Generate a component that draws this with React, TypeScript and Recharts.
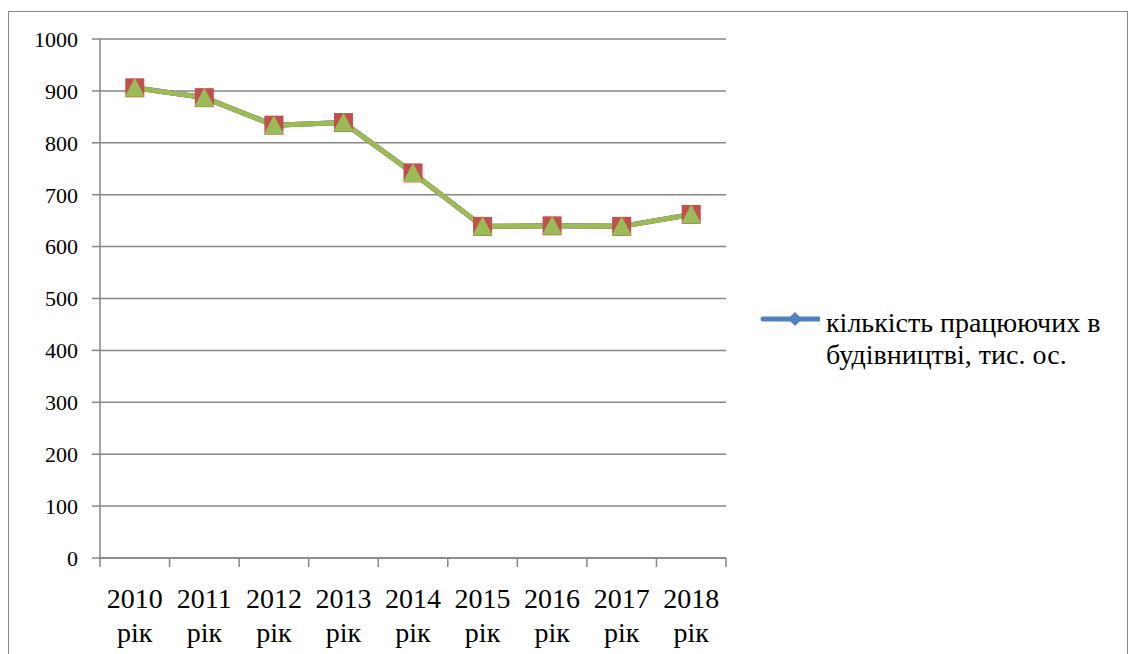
import { CartesianGrid, Legend, Line, LineChart, XAxis, YAxis } from "recharts";

const years = ["2010", "2011", "2012", "2013", "2014", "2015", "2016", "2017", "2018"];
const workersBlue = [906, 887, 834, 839, 742, 639, 640, 639, 662];
const workersRed = [906, 887, 834, 839, 742, 639, 640, 639, 662];
const workersGreen = [906, 887, 834, 839, 742, 639, 640, 639, 662];
const yTicks = [0, 100, 200, 300, 400, 500, 600, 700, 800, 900, 1000];
const legendLines = ["кількість працюючих в", "будівництві, тис. ос."];

const data = years.map((y, i) => ({
  year: y,
  blue: workersBlue[i],
  red: workersRed[i],
  green: workersGreen[i],
}));

const SERIF = "Liberation Serif, DejaVu Serif, Noto Serif, serif";
const GRID = "#868686";
const PLOT_LEFT = 100;
const PLOT_RIGHT = 726;
const BAND = (PLOT_RIGHT - PLOT_LEFT) / years.length;

// category labels two lines, tick marks sit on the band edges (excel style)
function YearTick(props: any) {
  const { x, y, payload, index } = props;
  const h = BAND / 2;
  return (
    <g>
      <line x1={x - h} x2={x - h} y1={y} y2={y + 9} stroke={GRID} strokeWidth={1.5} />
      {index === years.length - 1 && (
        <line x1={x + h} x2={x + h} y1={y} y2={y + 9} stroke={GRID} strokeWidth={1.5} />
      )}
      <text x={x} y={y + 50} textAnchor="middle" style={{ fontFamily: SERIF }} fontSize={28} fill="#000">
        {payload.value}
      </text>
      <text x={x} y={y + 84} textAnchor="middle" style={{ fontFamily: SERIF }} fontSize={28} fill="#000">
        рік
      </text>
    </g>
  );
}

const square = (p: any) => (
  <rect key={`sq-${p.index}`} x={p.cx - 9.5} y={p.cy - 9.5} width={19} height={19} fill="#C0504D" />
);
const triangle = (p: any) => (
  <polygon
    key={`tr-${p.index}`}
    points={`${p.cx},${p.cy - 10} ${p.cx + 10},${p.cy + 9} ${p.cx - 10},${p.cy + 9}`}
    fill="#9BBB59"
  />
);
const diamond = (p: any) => (
  <polygon
    key={`dm-${p.index}`}
    points={`${p.cx},${p.cy - 8} ${p.cx + 8},${p.cy} ${p.cx},${p.cy + 8} ${p.cx - 8},${p.cy}`}
    fill="#4F81BD"
  />
);

function LegendBox() {
  return (
    <div style={{ display: "flex", alignItems: "flex-start", fontFamily: SERIF, fontSize: 28, lineHeight: "32px", color: "#000" }}>
      <svg width={60} height={20} style={{ flex: "none" }}>
        <line x1={3} x2={59} y1={10} y2={10} stroke="#4F81BD" strokeWidth={5} strokeLinecap="round" />
        <polygon points="35,3 42,10 35,17 28,10" fill="#4F81BD" />
      </svg>
      <div style={{ marginLeft: 6, whiteSpace: "nowrap", marginTop: -2 }}>
        {legendLines.map((t) => (
          <div key={t}>{t}</div>
        ))}
      </div>
    </div>
  );
}

export default function App() {
  return (
    <div style={{ position: "absolute", left: 0, top: 0, width: 1135, height: 654, overflow: "hidden", background: "#fff", fontFamily: SERIF }}>
      <div
        style={{
          position: "absolute",
          left: 8,
          top: 11,
          width: 1118,
          height: 700,
          border: "1.5px solid #8a8a8a",
        }}
      />
      <div style={{ position: "absolute", left: 0, top: 0 }}>
        <LineChart width={1135} height={654} data={data} margin={{ top: 39, right: 1135 - PLOT_RIGHT, bottom: 66, left: 40 }}>
          <CartesianGrid vertical={false} stroke={GRID} strokeWidth={1.5} />
          <XAxis
            dataKey="year"
            scale="band"
            height={30}
            stroke={GRID}
            strokeWidth={1.5}
            tickLine={false}
            tickSize={0}
            tickMargin={0}
            interval={0}
            tick={<YearTick />}
          />
          <YAxis
            width={60}
            domain={[0, 1000]}
            ticks={yTicks}
            interval={0}
            stroke={GRID}
            strokeWidth={1.5}
            tickSize={8}
            tickMargin={14}
            tick={{ fontSize: 22, fill: "#000", style: { fontFamily: SERIF } }}
          />
          <Legend
            layout="vertical"
            align="center"
            verticalAlign="middle"
            wrapperStyle={{ left: 760, top: 309, width: 380 }}
            content={<LegendBox />}
          />
          <Line dataKey="blue" stroke="#4F81BD" strokeWidth={5} dot={diamond} isAnimationActive={false} />
          <Line dataKey="red" stroke="#C0504D" strokeWidth={5} dot={square} isAnimationActive={false} />
          <Line dataKey="green" stroke="#9BBB59" strokeWidth={5} dot={triangle} isAnimationActive={false} />
        </LineChart>
      </div>
    </div>
  );
}
